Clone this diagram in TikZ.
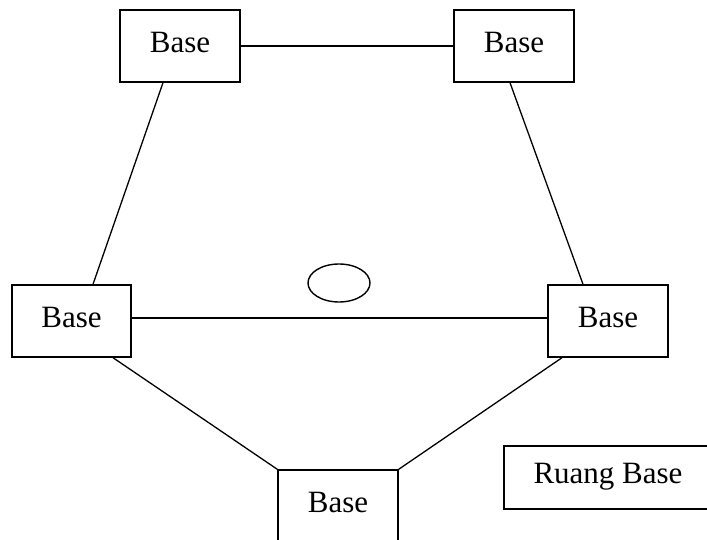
\documentclass[tikz,border=0pt]{standalone}
\usepackage{fontspec}
\setmainfont{Liberation Serif}
\usetikzlibrary{positioning,calc,shapes.geometric}

\begin{document}
\begin{tikzpicture}[
  x=1pt, y=-1pt,
  base/.style={draw, line width=1.4pt, minimum width=120pt, minimum height=72pt, inner sep=0pt, text depth=8pt, font=\fontsize{31}{36}\selectfont},
  link/.style={line width=1.3pt}
]
\useasboundingbox (0,0) rectangle (707,540);
\clip (0,0) rectangle (707,540);

% Bases around the field
\node[base] (topleft) at (180,46) {Base};
\node[base] (topright) at (514,46) {Base};
\node[base, minimum width=119pt] (midleft) at (71.5,321) {Base};
\node[base] (midright) at (608,321) {Base};
\node[base] (bottom) at (338,506) {Base};

% Ball
\node[draw, ellipse, line width=1.4pt, minimum width=62pt, minimum height=38pt, inner sep=0pt] (ball) at (339,283) {};

% Legend box
\node[base, minimum width=208pt, minimum height=63pt] (legend) at (608,477.5) {Ruang Base};

% Connections
\draw[link] (topleft.east) -- (topright.west);
\draw[link] ([xshift=-17pt]topleft.south) -- ([xshift=21.5pt]midleft.north);
\draw[link] ([xshift=-4pt]topright.south) -- ([xshift=-25pt]midright.north);
\draw[link] ([yshift=3pt]midleft.east) -- ([yshift=3pt]midright.west);
\draw[link] ([xshift=41.5pt]midleft.south) -- (bottom.north west);
\draw[link] ([xshift=-46pt]midright.south) -- (bottom.north east);

\end{tikzpicture}
\end{document}
